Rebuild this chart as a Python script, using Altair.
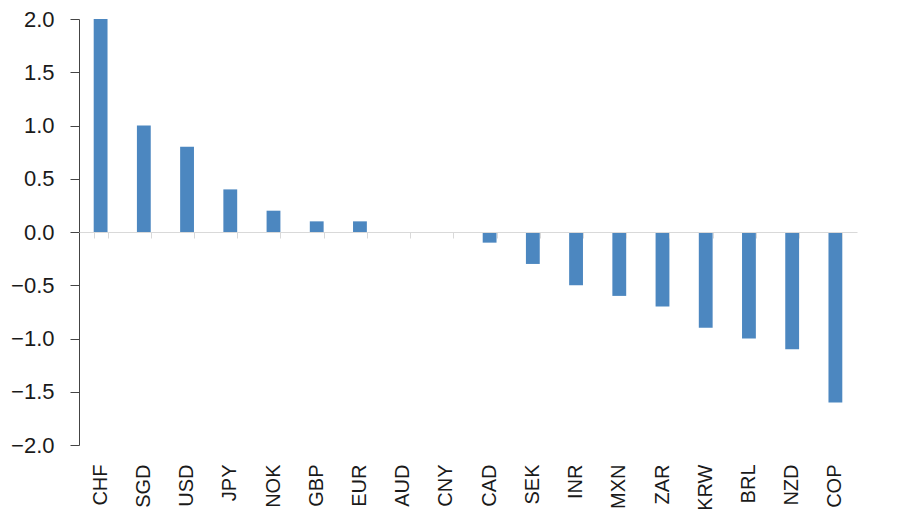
import altair as alt
import pandas as pd

currencies = ["CHF", "SGD", "USD", "JPY", "NOK", "GBP", "EUR", "AUD", "CNY",
              "CAD", "SEK", "INR", "MXN", "ZAR", "KRW", "BRL", "NZD", "COP"]
values = [2.0, 1.0, 0.8, 0.4, 0.2, 0.1, 0.1, 0.0, 0.0,
          -0.1, -0.3, -0.5, -0.6, -0.7, -0.9, -1.0, -1.1, -1.6]
y_ticks = [-2.0, -1.5, -1.0, -0.5, 0.0, 0.5, 1.0, 1.5, 2.0]

df = pd.DataFrame({"cur": currencies, "val": values})

W, H = 778, 426
FONT = "Liberation Sans"

yenc = alt.Y("val:Q",
             scale=alt.Scale(domain=[-2, 2], nice=False, zero=False),
             axis=alt.Axis(values=y_ticks, format=".1f", title=None, grid=False,
                           domainColor="#444444", tickColor="#444444",
                           tickSize=9, labelPadding=16, labelFontSize=22,
                           labelFont=FONT, labelColor="#1a1a1a"))

xscale = alt.Scale(paddingInner=0.68, paddingOuter=0.34)

bars = alt.Chart(df).mark_bar(color="#4c87c0").encode(
    x=alt.X("cur:N", sort=currencies, scale=xscale,
            axis=alt.Axis(title=None, labels=False, domain=True, ticks=True,
                          orient="bottom", tickBand="extent", offset=-H / 2,
                          domainColor="#d9d9d9", tickColor="#d9d9d9",
                          tickSize=6, zindex=1)),
    y=yenc,
)

labels = alt.Chart(df).mark_bar(opacity=0).encode(
    x=alt.X("cur:N", sort=currencies, scale=xscale,
            axis=alt.Axis(title=None, domain=False, ticks=False, labelAngle=-90,
                          orient="bottom", labelPadding=19, labelFontSize=20,
                          labelFont="Liberation Sans Narrow, Liberation Sans",
                          labelColor="#1a1a1a")),
    y=yenc,
)

chart = alt.layer(bars, labels).resolve_axis(x="independent").properties(
    width=W, height=H,
    padding={"left": 2, "top": 0, "right": 5, "bottom": 5},
).configure_view(stroke=None)

chart.save("out.html", embed_options={"renderer": "svg", "actions": False})
